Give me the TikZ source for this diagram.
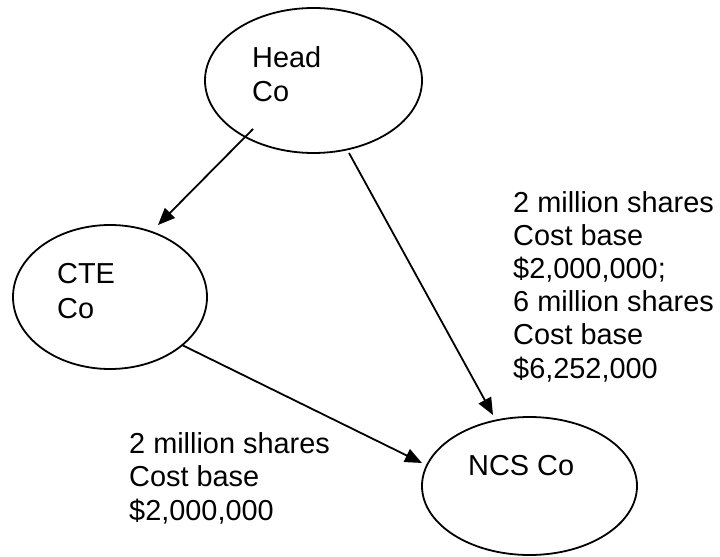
\documentclass[tikz,border=0pt]{standalone}
\usepackage{fontspec}
\setmainfont{Liberation Sans}
\usetikzlibrary{arrows.meta,shapes.geometric}
\begin{document}
\begin{tikzpicture}[x=1bp,y=-1bp,
  ell/.style={draw=black,line width=1.8bp,ellipse,inner sep=0pt},
  lbl/.style={anchor=base west,inner sep=0pt,align=left,font=\fontsize{29}{33.3}\selectfont},
  nm/.style={anchor=base west,inner sep=0pt,align=left,font=\fontsize{29}{35}\selectfont},
  arr/.style={line width=1.8bp,-{Triangle[length=17bp,width=14bp]}}]
\useasboundingbox (0,0) rectangle (720,557);
\node[ell,minimum width=217bp,minimum height=145bp] (head) at (313.5,80.5) {};
\node[ell,minimum width=194bp,minimum height=144bp] (cte) at (110,297) {};
\node[ell,minimum width=215bp,minimum height=138bp] (ncs) at (529.5,486) {};
\node[nm] (headtxt) at (252,102) {Head\\Co};
\node[nm] (ctetxt) at (57,318) {CTE\\Co};
\node[nm] (ncstxt) at (468,475) {NCS Co};
\node[lbl] (rtxt) at (513,378) {2 million shares\\Cost base\\\$2,000,000;\\6 million shares\\Cost base\\\$6,252,000};
\node[lbl] (btxt) at (129,520) {2 million shares\\Cost base\\\$2,000,000};
\coordinate (h1) at (253,129);
\coordinate (c1) at (158,225);
\coordinate (h2) at (349,153);
\coordinate (n1) at (493,415);
\coordinate (c2) at (182,345);
\coordinate (n2) at (422,463);
\draw[arr] (h1) -- (c1);
\draw[arr] (h2) -- (n1);
\draw[arr] (c2) -- (n2);
\end{tikzpicture}
\end{document}
